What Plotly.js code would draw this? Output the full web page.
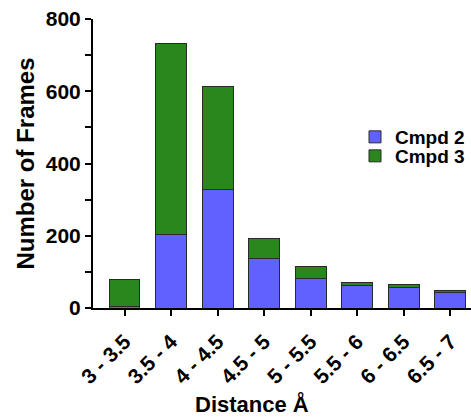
<!DOCTYPE html>
<html>
<head>
<meta charset="utf-8">
<script src="https://cdn.plot.ly/plotly-3.0.1.min.js"></script>
<style>
html,body{margin:0;padding:0;overflow:hidden;background:#fff;}
#chart{width:520px;height:418px;}
</style>
</head>
<body>
<div id="chart"></div>
<script>
const categories = ["3 - 3.5","3.5 - 4","4 - 4.5","4.5 - 5","5 - 5.5","5.5 - 6","6 - 6.5","6.5 - 7"];
const cmpd2 = [4, 204, 329, 137, 83, 63, 58, 43];
const cmpd3 = [76, 528, 284, 55, 31, 7, 8, 6];
const seriesNames = ["Cmpd 2", "Cmpd 3"];
const yTicks = [0, 200, 400, 600, 800];

const font = "Liberation Sans, Arial, sans-serif";
const traces = [
  {type:'bar', name:seriesNames[0], x:categories, y:cmpd2, legend:'legend',
   marker:{color:'#6161FF', line:{color:'#2a2a2a', width:1}}},
  {type:'bar', name:seriesNames[1], x:categories, y:cmpd3, legend:'legend2',
   marker:{color:'#2A871D', line:{color:'#2a2a2a', width:1}}}
];
const legFont = {family:font, size:19, weight:'bold', color:'#000'};
const layout = {
  width:520, height:418,
  margin:{l:93, r:0, t:19, b:110},
  barmode:'stack', bargap:0.34,
  paper_bgcolor:'#fff', plot_bgcolor:'#fff',
  font:{family:font, color:'#000'},
  showlegend:true,
  legend:{x:0.6136, y:(308-137)/289, xanchor:'left', yanchor:'middle', font:legFont,
          itemwidth:30, bgcolor:'rgba(0,0,0,0)', borderwidth:0},
  legend2:{x:0.6136, y:(308-156)/289, xanchor:'left', yanchor:'middle', font:legFont,
          itemwidth:30, bgcolor:'rgba(0,0,0,0)', borderwidth:0},
  xaxis:{type:'category', range:[-0.68, 8.5], showline:true, linecolor:'#000', linewidth:2,
         ticks:'outside', ticklen:6, tickwidth:2, tickcolor:'#000', tickangle:-45,
         ticklabelstandoff:5, automargin:false,
         tickfont:{family:font, size:21, weight:'bold'}, showgrid:false, zeroline:false},
  yaxis:{range:[0,800], showline:true, linecolor:'#000', linewidth:2,
         ticks:'outside', ticklen:6, tickwidth:2, tickcolor:'#000',
         tickvals:yTicks, ticktext:yTicks.map(String),
         minor:{tickvals:[100,300,500,700], ticks:'outside', ticklen:6, tickwidth:2, tickcolor:'#000'},
         ticklabelstandoff:0, automargin:false,
         tickfont:{family:font, size:21, weight:'bold'}, showgrid:false, zeroline:false,
         title:{text:'Number of Frames', font:{family:font, size:24, weight:'bold'}, standoff:4}},
  annotations:[
    {text:'Distance Å', xref:'paper', yref:'paper', x:(252-93)/427, y:-(404-308)/289,
     xanchor:'center', yanchor:'middle', showarrow:false,
     font:{family:font, size:22, weight:'bold', color:'#000'}}
  ]
};
Plotly.newPlot('chart', traces, layout, {displayModeBar:false, staticPlot:true});
</script>
</body>
</html>
